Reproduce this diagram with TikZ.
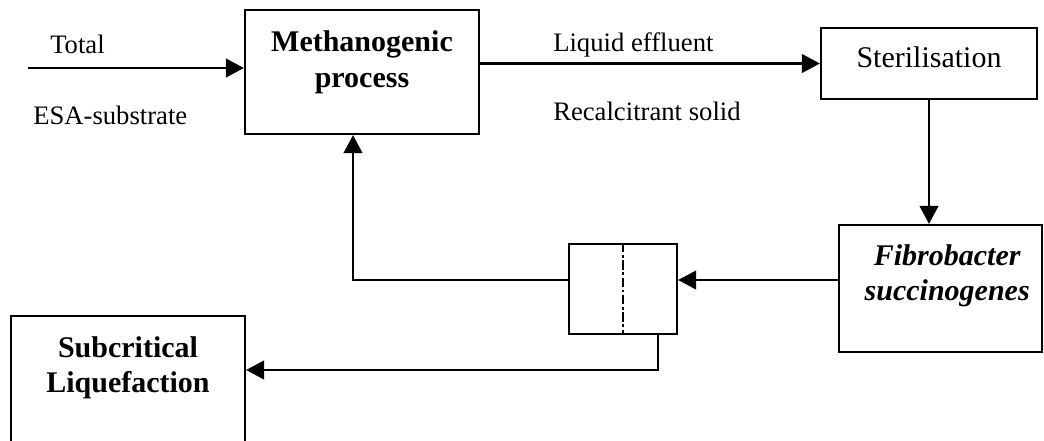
\documentclass[tikz,border=0pt]{standalone}
\usepackage{fontspec}
\setmainfont{Liberation Serif}
\usetikzlibrary{arrows.meta,positioning}

\begin{document}
\begin{tikzpicture}[x=0.75pt, y=-0.75pt, >={Triangle[length=13.5pt,width=14pt]},
    box/.style={draw, line width=1.7pt, inner sep=0pt},
    boxtext/.style={inner sep=0pt, align=center, font=\fontsize{22.5}{26.5}\selectfont\bfseries},
    flowtext/.style={inner sep=0pt, font=\fontsize{20}{24}\selectfont},
    flow/.style={->, line width=1.7pt}]
    \useasboundingbox (0,0) rectangle (1044,440);
    \clip (0,0) rectangle (1044,440);

    \node[box, minimum width=175.5pt, minimum height=93pt] (meth) at (362,72) {};
    \node[boxtext, below=16.5pt of meth.north] (methtext) {Methanogenic\\process};

    \node[box, minimum width=162pt, minimum height=53.25pt] (steril) at (929,63.5) {};
    \node[boxtext, font=\fontsize{22.5}{26.5}\selectfont, below=15pt of steril.north] (sterilext) {Sterilisation};

    \node[box, minimum width=152.25pt, minimum height=95.25pt] (fibro) at (940.5,288.5) {};
    \node[boxtext, font=\fontsize{22.5}{26.5}\selectfont\bfseries\itshape,
        below=15.4pt of fibro.north, xshift=5pt] (fibrotext) {Fibrobacter\\succinogenes};

    \node[box, minimum width=81pt, minimum height=67.5pt] (split) at (623,289) {};
    \draw[line width=1.6pt, dash pattern=on 7pt off 2pt on 2pt off 2pt]
        (split.north) -- (split.south);

    \node[box, minimum width=175.5pt, minimum height=97.5pt] (subcrit) at (128,381) {};
    \node[boxtext, below=15.8pt of subcrit.north] (subcrittext) {Subcritical\\Liquefaction};

    \node[flowtext, anchor=base west] (total) at (50,53) {Total};
    \node[flowtext, anchor=base west] (esa) at (33,124) {ESA-substrate};
    \node[flowtext, anchor=base west] (liquid) at (553,51) {Liquid effluent};
    \node[flowtext, anchor=base west] (solid) at (553,120) {Recalcitrant solid};

    \coordinate (inp) at (28,68);
    \coordinate (back) at (353,280);
    \coordinate (down) at (658,370);

    \draw[flow] (inp) -- (inp -| meth.west);
    \draw[flow] (meth.east |- steril.west) -- (steril.west);
    \draw[flow] (steril.south) -- (steril.south |- fibro.north);
    \draw[flow] (fibro.west |- back) -- (split.east |- back);
    \draw[flow] (split.west |- back) -- (back) -- (back |- meth.south);
    \draw[flow] (down |- split.south) -- (down) -- (subcrit.east |- down);
\end{tikzpicture}
\end{document}
